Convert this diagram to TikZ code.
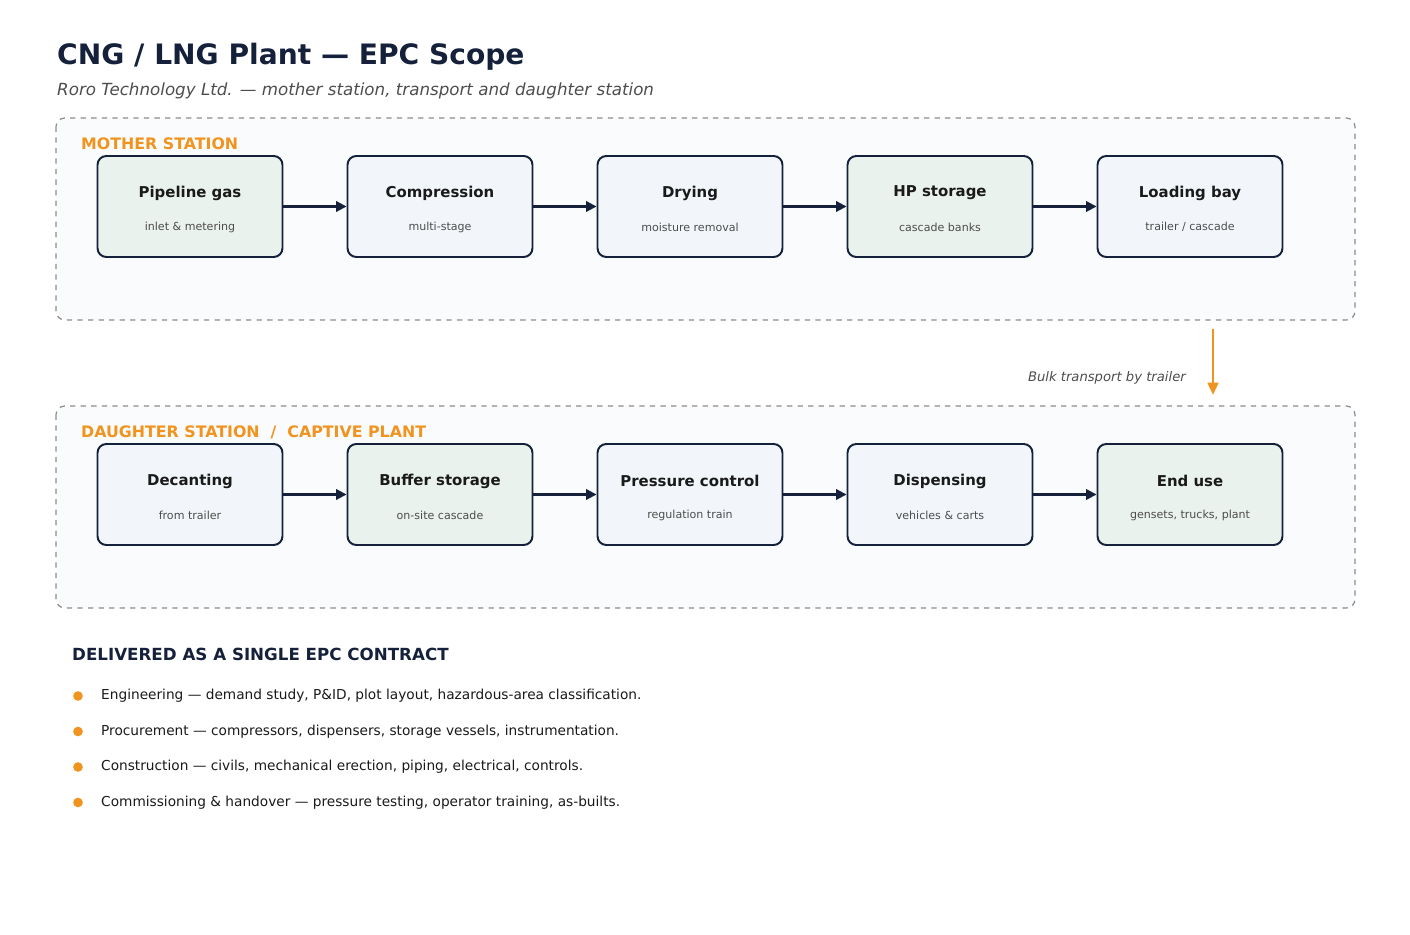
\documentclass[tikz,border=0pt]{standalone}
\usepackage{fontspec}
\setmainfont{DejaVu Sans}
\usetikzlibrary{positioning, arrows.meta}
\definecolor{navy}{HTML}{15213B}
\definecolor{stageorange}{HTML}{F0941F}
\definecolor{greenfill}{HTML}{E9F2EC}
\definecolor{bluefill}{HTML}{F2F6FA}
\definecolor{framefill}{HTML}{F9FBFD}
\definecolor{framegray}{HTML}{8C8C8C}
\definecolor{subgray}{HTML}{4D4D4D}
\definecolor{textdark}{HTML}{1A1A1A}

\begin{document}
\begin{tikzpicture}[
    x=0.02cm, y=-0.02cm,
    frame/.style={draw=framegray, dashed, fill=framefill, rounded corners=5pt, line width=0.7pt},
    stage/.style={draw=navy, line width=1.1pt, rounded corners=5pt, minimum width=3.7cm, minimum height=2.02cm},
    greenstage/.style={stage, fill=greenfill},
    bluestage/.style={stage, fill=bluefill},
    flow/.style={-{Triangle[length=6pt,width=6pt]}, line width=1.2pt, draw=navy},
    zonelabel/.style={anchor=west, text=stageorange, font=\bfseries\fontsize{9}{11}\selectfont},
    bullet/.style={circle, fill=stageorange, inner sep=0pt, minimum size=5.5pt},
    item/.style={anchor=west, text=textdark, font=\fontsize{7.8}{9}\selectfont}
]
\useasboundingbox (0,0) rectangle (1410,935);

% Title
\node (title) [anchor=west, text=navy, font=\bfseries\fontsize{16}{19}\selectfont] at (51,57) {CNG / LNG Plant — EPC Scope};
\node (subtitle) [anchor=west, text=subgray, font=\itshape\fontsize{9.5}{11}\selectfont] at (51,91) {Roro Technology Ltd. — mother station, transport and daughter station};

% Frames
\draw [frame] (56,118) rectangle (1355,320);
\draw [frame] (56,406) rectangle (1355,608);
\node (mother) [zonelabel] at (75,144) {MOTHER STATION};
\node (daughter) [zonelabel] at (75,432) {DAUGHTER STATION~~/~~CAPTIVE PLANT};

% Mother station
\foreach \name/\style/\x/\head/\sub in {
    pipe/greenstage/190/Pipeline gas/inlet \& metering,
    comp/bluestage/440/Compression/multi-stage,
    dry/bluestage/690/Drying/moisture removal,
    hp/greenstage/940/HP storage/cascade banks,
    load/bluestage/1190/Loading bay/{trailer / cascade}} {
  \node (\name) [\style] at (\x,206.5) {};
  \node [text=textdark, font=\bfseries\fontsize{8.5}{10}\selectfont] at (\x,193) {\head};
  \node [text=subgray, font=\fontsize{6.3}{8}\selectfont] at (\x,227) {\sub};
}
\draw [flow] (pipe) -- (comp);
\draw [flow] (comp) -- (dry);
\draw [flow] (dry) -- (hp);
\draw [flow] (hp) -- (load);

% Daughter station
\foreach \name/\style/\x/\head/\sub in {
    dec/bluestage/190/Decanting/from trailer,
    buf/greenstage/440/Buffer storage/on-site cascade,
    pres/bluestage/690/Pressure control/regulation train,
    disp/bluestage/940/Dispensing/vehicles \& carts,
    use/greenstage/1190/End use/{gensets, trucks, plant}} {
  \node (\name) [\style] at (\x,494.5) {};
  \node [text=textdark, font=\bfseries\fontsize{8.5}{10}\selectfont] at (\x,481) {\head};
  \node [text=subgray, font=\fontsize{6.3}{8}\selectfont] at (\x,515) {\sub};
}
\draw [flow] (dec) -- (buf);
\draw [flow] (buf) -- (pres);
\draw [flow] (pres) -- (disp);
\draw [flow] (disp) -- (use);

% Transport
\coordinate (tstart) at (1213,329);
\coordinate (tend) at (1213,395);
\draw [-{Triangle[length=7pt,width=6pt]}, line width=1.5pt, draw=stageorange] (tstart) -- (tend);
\node (transport) [anchor=east, text=subgray, font=\itshape\fontsize{7.5}{9}\selectfont] at (1192,378) {Bulk transport by trailer};

% Contract
\node (contract) [anchor=west, text=navy, font=\bfseries\fontsize{9.5}{11}\selectfont] at (66,654) {DELIVERED AS A SINGLE EPC CONTRACT};
\foreach \y/\txt in {
    696/{Engineering — demand study, P\&ID, plot layout, hazardous-area classification.},
    731.5/{Procurement — compressors, dispensers, storage vessels, instrumentation.},
    767/{Construction — civils, mechanical erection, piping, electrical, controls.},
    802.5/{Commissioning \& handover — pressure testing, operator training, as-builts.}} {
  \node [bullet] at (78,\y) {};
  \node [item] at (95,\y) {\txt};
}
\end{tikzpicture}
\end{document}
